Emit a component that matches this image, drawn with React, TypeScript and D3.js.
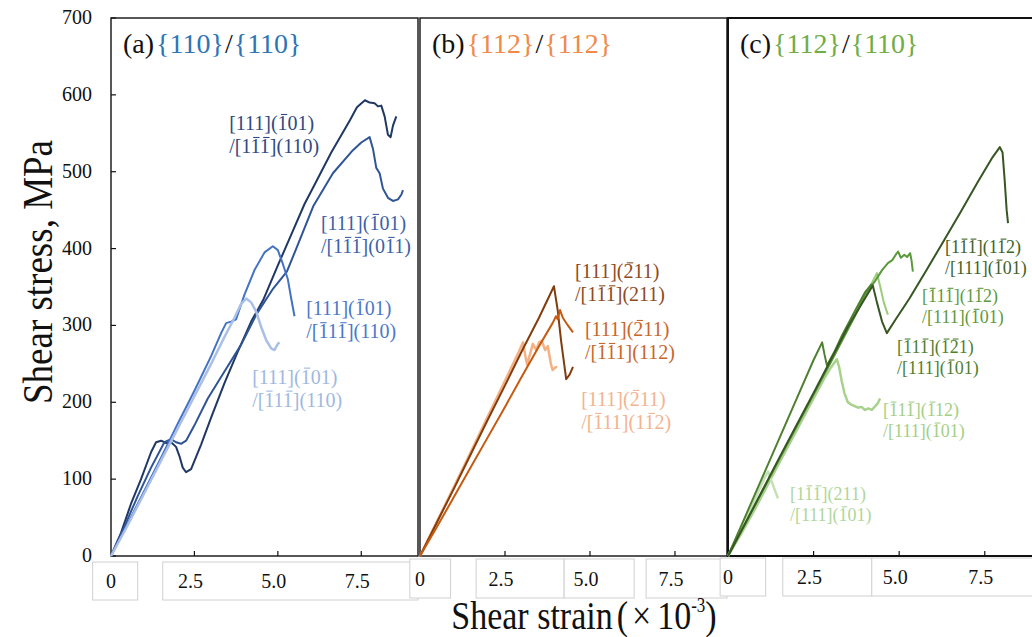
import * as d3 from "d3";

// ---- data ----
const yTicks = [0, 100, 200, 300, 400, 500, 600, 700];
const xTicks = [0, 2.5, 5.0, 7.5];
const xTickLabels = ["0", "2.5", "5.0", "7.5"];

// panel (a) {110}/{110}  [strain x1e-3, stress MPa]
const a1 = [[0,0],[0.3,30],[0.6,68],[0.9,100],[1.2,135],[1.35,148],[1.5,150],[1.65,147],[1.8,148],[1.95,142],[2.05,130],[2.15,115],[2.25,109],[2.4,113],[2.7,145],[3.0,180],[3.4,225],[3.78,264],[4.2,305],[4.56,333],[5.0,378],[5.46,424],[5.8,458],[6.17,489],[6.6,525],[7.0,555],[7.16,567],[7.37,584],[7.61,593],[7.75,590],[7.9,589],[8.0,585],[8.1,586],[8.2,572],[8.3,548],[8.38,545],[8.45,560],[8.55,572]];
const a2 = [[0,0],[0.4,38],[0.8,78],[1.2,115],[1.6,148],[1.8,152],[1.95,148],[2.1,146],[2.25,150],[2.5,170],[2.9,205],[3.4,240],[3.9,275],[4.38,316],[4.86,348],[5.27,370],[5.6,405],[6.06,455],[6.65,498],[7.25,528],[7.5,538],[7.75,545],[7.85,530],[7.95,505],[8.05,498],[8.15,478],[8.3,466],[8.45,462],[8.6,464],[8.7,470],[8.75,476]];
const a3 = [[0,0],[0.5,42],[1.0,85],[1.5,128],[2.0,172],[2.5,215],[3.0,260],[3.3,290],[3.45,303],[3.6,305],[3.75,308],[4.0,340],[4.3,372],[4.6,395],[4.85,403],[5.0,398],[5.15,380],[5.3,360],[5.4,335],[5.5,312]];
const a4 = [[0,0],[0.5,40],[1.0,82],[1.5,124],[2.0,166],[2.5,208],[3.0,250],[3.4,285],[3.7,310],[3.9,328],[4.05,335],[4.2,330],[4.35,318],[4.5,298],[4.65,281],[4.8,270],[4.9,268],[5.0,276],[5.05,278]];

// panel (b) {112}/{112}
const b1 = [[0,0],[0.5,44],[1,88],[1.5,133],[2,178],[2.5,222],[3,267],[3.5,310],[3.94,351],[4.05,320],[4.15,280],[4.3,230],[4.4,236],[4.5,246]];
const b2 = [[0,0],[0.5,38],[1,77],[1.5,116],[2,155],[2.5,194],[3,234],[3.5,273],[3.9,303],[4.0,312],[4.05,308],[4.12,320],[4.2,310],[4.35,300],[4.5,291]];
const b3 = [[0,0],[0.5,45],[1,90],[1.5,136],[2,182],[2.5,228],[2.9,265],[3.03,278],[3.1,260],[3.15,249],[3.25,265],[3.32,276],[3.42,268],[3.5,278],[3.58,280],[3.68,268],[3.76,273],[3.85,250],[3.9,242],[4.0,246],[4.03,245]];

// panel (c) {112}/{110}
const c1 = [[0,0],[0.5,42],[1,85],[1.5,128],[2,170],[2.5,212],[3,255],[3.5,298],[4.0,335],[4.23,352],[4.35,330],[4.5,305],[4.64,290],[4.9,308],[5.3,335],[5.8,372],[6.3,410],[6.8,448],[7.3,487],[7.7,517],[7.94,532],[8.02,525],[8.08,490],[8.14,450],[8.18,433]];
const c2 = [[0,0],[1,84],[2,168],[3,252],[3.7,312],[4.0,340],[4.3,358],[4.5,372],[4.67,381],[4.8,385],[4.9,392],[4.97,396],[5.05,388],[5.15,392],[5.23,389],[5.32,394],[5.36,385],[5.4,370]];
const c3 = [[0,0],[0.5,51],[1,102],[1.5,153],[2,204],[2.5,255],[2.75,278],[2.82,262],[2.89,248],[3.1,265],[3.33,287],[3.7,318],[4.0,343],[4.2,354]];
const c4 = [[0,0],[0.4,30],[0.8,62],[1.2,96],[1.6,130],[2.0,163],[2.4,197],[2.8,230],[3.0,245],[3.18,256],[3.25,245],[3.32,228],[3.4,212],[3.5,200],[3.6,197],[3.7,195],[3.8,193],[3.9,194],[4.0,190],[4.1,192],[4.2,190],[4.3,195],[4.38,199],[4.44,205]];
const c5 = [[0,0],[0.4,37],[0.8,75],[1.05,100],[1.17,110],[1.25,100],[1.35,88],[1.46,75]];
const c6 = [[0,0],[1,84],[2,168],[3,252],[3.8,320],[4.2,355],[4.35,368],[4.45,350],[4.55,330],[4.67,314]];

// labels ("~" = overbar on next character)
const aLabels = [
  ["[111](~101)", "/[1~1~1](110)"],
  ["[111](~101)", "/[1~1~1](0~11)"],
  ["[111](~101)", "/[~11~1](110)"],
  ["[111](~101)", "/[~11~1](110)"],
];
const bLabels = [
  ["[111](~211)", "/[1~1~1](211)"],
  ["[111](~211)", "/[~1~11](112)"],
  ["[111](~211)", "/[~111](1~12)"],
];
const cLabels = [
  ["[1~1~1](1~12)", "/[111](~101)"],
  ["[~11~1](1~12)", "/[111](~101)"],
  ["[~11~1](~1~21)", "/[111](~101)"],
  ["[~11~1](~112)", "/[111](~101)"],
  ["[1~1~1](211)", "/[111](~101)"],
];

// ---- layout ----
const W = 1032;
const H = 637;
const top = 18;
const bottom = 556;
const font = "'Liberation Serif', 'Times New Roman', serif";

const y = d3.scaleLinear().domain([0, 700]).range([bottom, top]);

const panels = [
  {
    key: "a", letter: "(a)", planes: ["{110}", "{110}"], titleColor: "#2e75b6",
    x: d3.scaleLinear().domain([0, 9.2]).range([111, 418]),
    curves: [
      { d: a1, color: "#1f3864", w: 2 },
      { d: a2, color: "#2f5597", w: 2 },
      { d: a3, color: "#4472c4", w: 2 },
      { d: a4, color: "#a9bfe6", w: 2.5 },
    ],
    labels: aLabels, fs: 20, lh: 23,
    labelColors: ["#2f4a80", "#3c62a8", "#4c78c8", "#9fb8e2"],
    labelPos: [[3.54, 563], [6.29, 433], [5.85, 322], [4.23, 233]],
    boxes: [[-0.55, 0.8], [1.55, 9.2]],
    boxY: [562, 600],
  },
  {
    key: "b", letter: "(b)", planes: ["{112}", "{112}"], titleColor: "#f08a4b",
    x: d3.scaleLinear().domain([0, 9.03]).range([420, 727]),
    curves: [
      { d: b3, color: "#f4b183", w: 2.5 },
      { d: b1, color: "#843c0c", w: 2 },
      { d: b2, color: "#c55a11", w: 2 },
    ],
    labels: bLabels, fs: 20, lh: 23,
    labelColors: ["#8e4a1e", "#c9662a", "#f2b490"],
    labelPos: [[4.56, 370], [4.85, 295], [4.74, 204]],
    boxes: [[-0.3, 0.9], [1.65, 4.24], [4.24, 6.3], [6.65, 9.03]],
    boxY: [559, 598],
  },
  {
    key: "c", letter: "(c)", planes: ["{112}", "{110}"], titleColor: "#70ad47",
    x: d3.scaleLinear().domain([0, 8.88]).range([728, 1032]),
    curves: [
      { d: c4, color: "#a9d18e", w: 2.5 },
      { d: c5, color: "#c5e0b4", w: 2.5 },
      { d: c6, color: "#9ccc7c", w: 2 },
      { d: c2, color: "#5a9a3a", w: 2 },
      { d: c3, color: "#4e8030", w: 2 },
      { d: c1, color: "#375623", w: 2 },
    ],
    labels: cLabels, fs: 18, lh: 21,
    labelColors: ["#3f6328", "#5f9a40", "#4f8030", "#a3cf86", "#b0d69a"],
    labelPos: [[6.34, 402], [5.67, 338], [4.94, 272], [4.53, 190], [1.81, 81]],
    boxes: [[-0.23, 1.1], [1.6, 4.2], [4.2, 8.95]],
    boxY: [558, 596],
  },
];

// Times / Liberation Serif advance widths (em) for the characters used in labels
const adv = (ch: string) => ("[]()".includes(ch) ? 0.333 : ch === "/" ? 0.278 : 0.5);

// strip "~" marks, return plain text plus overbar spans in em
function parseMiller(s: string) {
  let text = "";
  let pos = 0;
  const bars: number[] = [];
  for (let i = 0; i < s.length; i++) {
    if (s[i] === "~") {
      bars.push(pos);
      continue;
    }
    text += s[i];
    pos += adv(s[i]);
  }
  return { text, bars };
}

export default function App() {
  const line = (x: any) =>
    d3.line<number[]>().x((d) => x(d[0])).y((d) => y(d[1]));

  return (
    <div style={{ position: "absolute", left: 0, top: 0 }}>
      <svg width={W} height={H} style={{ display: "block", background: "#fff" }} fontFamily={font}>
        {/* y tick labels */}
        {yTicks.map((t) => (
          <text key={t} x={92} y={y(t) + 6} textAnchor="end" fontSize={20} fill="#111">
            {t}
          </text>
        ))}
        <text
          transform={`translate(52, 272) rotate(-90) scale(1, 1.15)`}
          textAnchor="middle"
          fontSize={37}
          fill="#111"
        >
          Shear stress, MPa
        </text>

        {panels.map((p) => {
          const [x0, x1] = p.x.range();
          const gen = line(p.x);
          return (
            <g key={p.key}>
              {/* tick label boxes */}
              {p.boxes.map((b, i) => (
                <rect
                  key={i}
                  x={p.x(b[0])}
                  y={p.boxY[0]}
                  width={p.x(b[1]) - p.x(b[0])}
                  height={p.boxY[1] - p.boxY[0]}
                  fill="#fff"
                  stroke="#d0d0d0"
                  strokeWidth={1}
                />
              ))}
              {xTicks.map((t, i) => (
                <text
                  key={t}
                  x={p.x(t) + (t === 0 ? 0 : -4)}
                  y={(p.boxY[0] + p.boxY[1]) / 2 + 7}
                  textAnchor="middle"
                  fontSize={20}
                  fill="#111"
                >
                  {xTickLabels[i]}
                </text>
              ))}

              {/* frame */}
              <rect
                x={x0}
                y={top}
                width={x1 - x0 + (p.key === "c" ? 4 : 0)}
                height={bottom - top}
                fill="none"
                stroke="#111"
                strokeWidth={p.key === "c" ? 2 : 1.4}
              />
              {xTicks.slice(1).map((t) => (
                <line key={t} x1={p.x(t)} x2={p.x(t)} y1={bottom} y2={bottom - 5} stroke="#111" strokeWidth={1.2} />
              ))}
              {p.key === "a" &&
                yTicks.map((t) => (
                  <line key={t} x1={x0} x2={x0 + 5} y1={y(t)} y2={y(t)} stroke="#111" strokeWidth={1.2} />
                ))}

              {/* curves */}
              {p.curves.map((c, i) => (
                <path
                  key={i}
                  d={gen(c.d as any) || ""}
                  fill="none"
                  stroke={c.color}
                  strokeWidth={c.w}
                  strokeLinejoin="round"
                />
              ))}

              {/* labels */}
              {p.labels.map((lines, i) => {
                const lx = p.x(p.labelPos[i][0]);
                const ly = y(p.labelPos[i][1]) + p.fs * 0.33;
                return (
                  <g key={i} fill={p.labelColors[i]} stroke={p.labelColors[i]}>
                    {lines.map((l, j) => {
                      const { text, bars } = parseMiller(l);
                      const by = ly + j * p.lh;
                      return (
                        <g key={j}>
                          <text x={lx} y={by} fontSize={p.fs} stroke="none">
                            {text}
                          </text>
                          {bars.map((b, k) => (
                            <line
                              key={k}
                              x1={lx + (b + 0.09) * p.fs}
                              x2={lx + (b + 0.41) * p.fs}
                              y1={by - 0.77 * p.fs}
                              y2={by - 0.77 * p.fs}
                              strokeWidth={1.1}
                            />
                          ))}
                        </g>
                      );
                    })}
                  </g>
                );
              })}

              {/* title */}
              <text x={x0 + 12} y={53} fontSize={28} fill="#111">
                {p.letter}
                <tspan dx={2} fill={p.titleColor}>{p.planes[0]}</tspan>
                <tspan dx={1}>/</tspan>
                <tspan dx={1} fill={p.titleColor}>{p.planes[1]}</tspan>
              </text>
            </g>
          );
        })}

        {/* x axis title */}
        <text transform="translate(584, 629) scale(1, 1.2)" textAnchor="middle" fontSize={34} fill="#111">
          Shear strain
          <tspan dx={4}>(</tspan>
          <tspan dx={4}>×</tspan>
          <tspan dx={6}>10</tspan>
          <tspan fontSize={17} dy={-14}>-3</tspan>
          <tspan dy={14}>)</tspan>
        </text>
      </svg>
    </div>
  );
}
